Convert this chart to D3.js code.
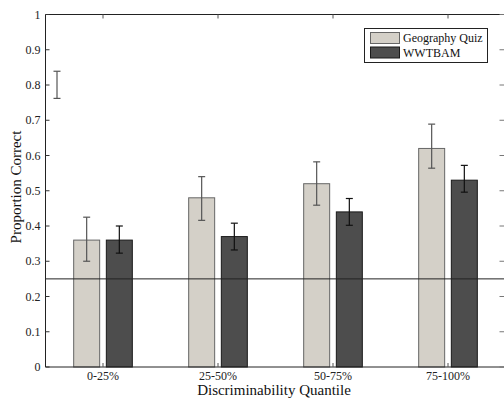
<!DOCTYPE html>
<html>
<head>
<meta charset="utf-8">
<script src="https://cdn.jsdelivr.net/npm/d3@7"></script>
<style>
  body { margin: 0; background: #fff; }
  svg { font-family: "Liberation Serif", "Times New Roman", serif; }
  .tick-label { font-size: 12px; fill: #222; }
  .axis-title { font-size: 15px; fill: #111; }
  .legend-text { font-size: 12px; fill: #111; }
</style>
</head>
<body>
<svg width="504" height="401"></svg>
<script>
// data
const quantiles = ["0-25%", "25-50%", "50-75%", "75-100%"];
const seriesNames = ["Geography Quiz", "WWTBAM"];
const geoMean = [0.36, 0.48, 0.52, 0.62];
const geoLow  = [0.30, 0.416, 0.459, 0.564];
const geoHigh = [0.425, 0.54, 0.582, 0.689];
const wwMean  = [0.36, 0.37, 0.44, 0.53];
const wwLow   = [0.323, 0.332, 0.402, 0.496];
const wwHigh  = [0.40, 0.408, 0.478, 0.572];
const yTicks = [0, 0.1, 0.2, 0.3, 0.4, 0.5, 0.6, 0.7, 0.8, 0.9, 1];
const chanceLevel = 0.25;
// stray error bar left in the top-left corner of the original figure
const strayBar = { x: 0.6, low: 0.762, high: 0.839 };

const svg = d3.select("svg");
const plotLeft = 45.5, plotRight = 505.5, plotTop = 14.5, plotBottom = 367;

const x = d3.scaleLinear().domain([0.5, 4.5]).range([plotLeft, plotRight]);
const y = d3.scaleLinear().domain([0, 1]).range([plotBottom, plotTop]);

const barW = 0.226;   // in category units
const offset = 0.142;

const colors = ["#d4d0c8", "#4d4d4d"];
const strokes = ["#666", "#1a1a1a"];

const series = [
  { mean: geoMean, low: geoLow, high: geoHigh },
  { mean: wwMean, low: wwLow, high: wwHigh }
];

// bars
let group_bars = svg.append("g");
series.map((s, si) => {
  const dx = si === 0 ? -offset : offset;
  s.mean.map((v, i) => {
    group_bars.append("rect")
      .attr("x", x(i + 1 + dx - barW / 2))
      .attr("y", y(v))
      .attr("width", x(barW) - x(0))
      .attr("height", y(0) - y(v))
      .attr("fill", colors[si])
      .attr("stroke", strokes[si])
      .attr("stroke-width", 1);
  });
});

// chance line
svg.append("line")
  .attr("x1", x(0.5)).attr("x2", x(4.5))
  .attr("y1", y(chanceLevel)).attr("y2", y(chanceLevel))
  .attr("stroke", "#222").attr("stroke-width", 1);

// error bars
function errorBar(g, cx, lo, hi, color) {
  const cap = 3.5;
  g.append("line").attr("x1", cx).attr("x2", cx).attr("y1", y(lo)).attr("y2", y(hi))
    .attr("stroke", color).attr("stroke-width", 1.2);
  [lo, hi].map(v => {
    g.append("line").attr("x1", cx - cap).attr("x2", cx + cap).attr("y1", y(v)).attr("y2", y(v))
      .attr("stroke", color).attr("stroke-width", 1.2);
  });
}
let group_err = svg.append("g");
series.map((s, si) => {
  const dx = si === 0 ? -offset : offset;
  s.mean.map((v, i) => {
    errorBar(group_err, x(i + 1 + dx), s.low[i], s.high[i], si === 0 ? "#555" : "#111");
  });
});
errorBar(group_err, x(strayBar.x), strayBar.low, strayBar.high, "#555");

// axes box
const axis = svg.append("g");
axis.append("line").attr("x1", plotLeft).attr("x2", plotRight).attr("y1", plotBottom).attr("y2", plotBottom)
  .attr("stroke", "#222");
axis.append("line").attr("x1", plotLeft).attr("x2", plotRight).attr("y1", plotTop).attr("y2", plotTop)
  .attr("stroke", "#222");
axis.append("line").attr("x1", plotLeft).attr("x2", plotLeft).attr("y1", plotTop).attr("y2", plotBottom)
  .attr("stroke", "#222");

// y ticks (inside, both sides)
yTicks.map(t => {
  axis.append("line").attr("x1", plotLeft).attr("x2", plotLeft + 4).attr("y1", y(t)).attr("y2", y(t))
    .attr("stroke", "#333");
  axis.append("line").attr("x1", plotRight).attr("x2", plotRight - 6).attr("y1", y(t)).attr("y2", y(t))
    .attr("stroke", "#777");
  axis.append("text").attr("class", "tick-label")
    .attr("x", plotLeft - 5).attr("y", y(t) + 4)
    .attr("text-anchor", "end")
    .text(d3.format("")(t));
});

// x ticks
quantiles.map((q, i) => {
  axis.append("line").attr("x1", x(i + 1)).attr("x2", x(i + 1)).attr("y1", plotBottom).attr("y2", plotBottom - 4)
    .attr("stroke", "#555");
  axis.append("line").attr("x1", x(i + 1)).attr("x2", x(i + 1)).attr("y1", plotTop).attr("y2", plotTop + 4)
    .attr("stroke", "#555");
  axis.append("text").attr("class", "tick-label")
    .attr("x", x(i + 1)).attr("y", plotBottom + 13)
    .attr("text-anchor", "middle")
    .text(q);
});

// axis titles
svg.append("text").attr("class", "axis-title")
  .attr("x", 274).attr("y", 395)
  .attr("text-anchor", "middle")
  .text("Discriminability Quantile");
svg.append("text").attr("class", "axis-title")
  .attr("transform", "translate(21," + 187 + ") rotate(-90)")
  .attr("text-anchor", "middle")
  .text("Proportion Correct");

// legend
const legend = svg.append("g");
legend.append("rect").attr("x", 364.5).attr("y", 28.5).attr("width", 123).attr("height", 34)
  .attr("fill", "#fff").attr("stroke", "#222");
seriesNames.map((name, i) => {
  legend.append("rect")
    .attr("x", 370.5).attr("y", 32.5 + i * 14.5)
    .attr("width", 29).attr("height", 11)
    .attr("fill", colors[i]).attr("stroke", strokes[i]);
  legend.append("text").attr("class", "legend-text")
    .attr("x", 403).attr("y", 42 + i * 15)
    .text(name);
});
</script>
</body>
</html>
